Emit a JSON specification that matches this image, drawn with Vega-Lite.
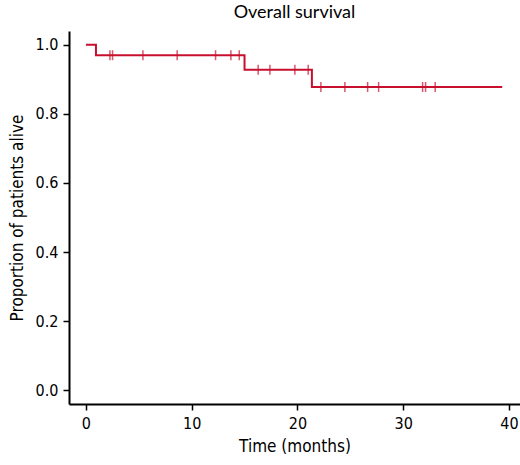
{
  "$schema": "https://vega.github.io/schema/vega-lite/v6.json",
  "autosize": {"type": "none"},
  "padding": {"left": 69, "top": 31, "right": 0, "bottom": 61},
  "width": 451,
  "height": 373,
  "background": "white",
  "title": {
    "text": "Overall survival",
    "font": "Lato",
    "fontSize": 18,
    "fontWeight": "normal",
    "color": "black",
    "anchor": "middle",
    "offset": 9
  },
  "datasets": {
    "km": [
      {"time": 0, "surv": 1.0},
      {"time": 0.95, "surv": 0.97},
      {"time": 15.0, "surv": 0.928},
      {"time": 21.37, "surv": 0.878},
      {"time": 39.37, "surv": 0.878}
    ],
    "censored": [
      {"time": 2.27, "surv": 0.97},
      {"time": 2.52, "surv": 0.97},
      {"time": 5.39, "surv": 0.97},
      {"time": 8.63, "surv": 0.97},
      {"time": 12.26, "surv": 0.97},
      {"time": 13.71, "surv": 0.97},
      {"time": 14.5, "surv": 0.97},
      {"time": 16.29, "surv": 0.928},
      {"time": 17.4, "surv": 0.928},
      {"time": 19.76, "surv": 0.928},
      {"time": 21.02, "surv": 0.928},
      {"time": 22.22, "surv": 0.878},
      {"time": 24.49, "surv": 0.878},
      {"time": 26.64, "surv": 0.878},
      {"time": 27.68, "surv": 0.878},
      {"time": 31.84, "surv": 0.878},
      {"time": 32.12, "surv": 0.878},
      {"time": 33.03, "surv": 0.878}
    ]
  },
  "encoding": {
    "x": {
      "field": "time",
      "type": "quantitative",
      "scale": {"domain": [-1.6, 41.05], "nice": false, "zero": false},
      "axis": {
        "title": "Time (months)",
        "values": [0, 10, 20, 30, 40],
        "grid": false,
        "domainColor": "black",
        "domainWidth": 2,
        "tickColor": "black",
        "tickWidth": 1.5,
        "tickSize": 6,
        "labelFont": "'DejaVu Sans Condensed', Roboto, sans-serif",
        "labelFontSize": 16,
        "labelColor": "black",
        "labelPadding": 5,
        "titleFont": "'DejaVu Sans Condensed', Roboto, sans-serif",
        "titleFontSize": 17,
        "titleFontWeight": "normal",
        "titleColor": "black",
        "titlePadding": 7
      }
    },
    "y": {
      "field": "surv",
      "type": "quantitative",
      "scale": {"domain": [-0.04, 1.04], "nice": false, "zero": false},
      "axis": {
        "title": "Proportion of patients alive",
        "values": [0, 0.2, 0.4, 0.6, 0.8, 1.0],
        "format": ".1f",
        "grid": false,
        "domainColor": "black",
        "domainWidth": 2,
        "tickColor": "black",
        "tickWidth": 1.5,
        "tickSize": 6,
        "labelFont": "'DejaVu Sans Condensed', Roboto, sans-serif",
        "labelFontSize": 16,
        "labelColor": "black",
        "labelPadding": 5,
        "titleFont": "'DejaVu Sans Condensed', Roboto, sans-serif",
        "titleFontSize": 17,
        "titleFontWeight": "normal",
        "titleColor": "black",
        "titlePadding": 9
      }
    }
  },
  "layer": [
    {
      "data": {"name": "km"},
      "mark": {"type": "line", "interpolate": "step-after", "color": "#c8102e", "strokeWidth": 2}
    },
    {
      "data": {"name": "censored"},
      "mark": {"type": "tick", "orient": "vertical", "color": "#c8102e", "size": 10, "thickness": 1.5}
    }
  ],
  "config": {"view": {"stroke": null}}
}
